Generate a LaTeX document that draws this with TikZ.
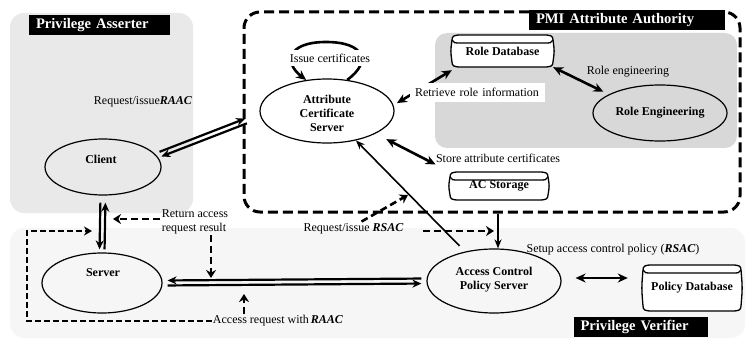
\documentclass[tikz,border=0pt]{standalone}
\usepackage{fontspec}
\setmainfont{Liberation Serif}
\usetikzlibrary{shapes.geometric,arrows.meta,calc}
\definecolor{asfill}{RGB}{233,233,233}
\definecolor{pvfill}{RGB}{246,246,246}
\definecolor{rolefill}{RGB}{216,216,216}
\newcommand{\dbdraw}[4]{%
 \draw[dbline,fill=white] (#1,{#2+5}) .. controls (#1,{#2+1}) and ({#1+2},#2) .. ({#1+9},#2) -- ({#3-9},#2) .. controls ({#3-2},#2) and (#3,{#2+1}) .. (#3,{#2+5})
   .. controls ({#3+1.5},{(#2+#4)/2}) .. (#3,{#4-5})
   .. controls (#3,{#4-1}) and ({#3-2},#4) .. ({#3-9},#4) -- ({#1+9},#4) .. controls ({#1+2},#4) and (#1,{#4-1}) .. (#1,{#4-5})
   .. controls ({#1-1.5},{(#2+#4)/2}) .. (#1,{#2+5}) -- cycle;
 \draw[dbline] (#1,{#2+5}) .. controls ({#1+2},{#2+8}) .. ({#1+9},{#2+8}) -- ({#3-9},{#2+8}) .. controls ({#3-2},{#2+8}) .. (#3,{#2+5});
}
\begin{document}
\begin{tikzpicture}[x=1pt,y=-1pt,
 font=\fontsize{12}{14}\selectfont,
 ell/.style={draw, ellipse, line width=1.2pt, inner sep=0pt},
 nlabel/.style={font=\fontsize{12}{14}\selectfont\bfseries, align=center, inner sep=0pt},
 dbnode/.style={font=\fontsize{12}{14}\selectfont\bfseries, inner sep=0pt},
 dbline/.style={line width=1.3pt},
 txt/.style={inner sep=1pt, font=\fontsize{12}{14}\selectfont},
 region/.style={rounded corners=14pt, inner sep=0pt},
 tag/.style={fill=black, text=white, font=\fontsize{14.6}{16}\selectfont\bfseries, inner xsep=7pt, inner ysep=0pt, minimum height=20pt, align=left},
 twoarrow/.style={line width=2.6pt, {Stealth[length=10pt,width=9pt]}-{Stealth[length=10pt,width=9pt]}},
 onearrow/.style={line width=1.6pt, -{Stealth[length=9pt,width=7pt]}},
 dline/.style={line width=2.2pt, -{Stealth[length=9pt,width=8pt]}},
 dasharrow/.style={line width=2.6pt, dash pattern=on 7pt off 4pt, -{Stealth[length=8pt,width=10pt]}},
 loopline/.style={line width=2pt, dash pattern=on 6pt off 3pt, -{Stealth[length=8pt,width=9pt]}},
]
\useasboundingbox (0,0) rectangle (747,342);
% regions
\node[region, fill=asfill, minimum width=183pt, minimum height=200pt] (asserter) at (101.5,113) {};
\node[region, fill=pvfill, minimum width=735pt, minimum height=110pt] (verifier) at (377.5,283) {};
\node[region, fill=rolefill, rounded corners=12pt, minimum width=302pt, minimum height=115pt] (roleregion) at (586,90.5) {};
\node[draw, rounded corners=16pt, line width=3pt, dash pattern=on 10pt off 5pt, inner sep=0pt, minimum width=496pt, minimum height=200pt] (pmi) at (492,112) {};

% ellipses
\node[ell, minimum width=134pt, minimum height=64pt] (acs) at (327,111) {};
\node[nlabel] (acstext) at (327,113) {Attribute\\Certificate\\Server};
\node[ell, minimum width=116pt, minimum height=56pt] (client) at (103,167) {};
\node[nlabel] (clienttext) at (101,159) {Client};
\node[ell, minimum width=120pt, minimum height=60pt] (server) at (102,283) {};
\node[nlabel] (servertext) at (103,273) {Server};
\node[ell, minimum width=134pt, minimum height=64pt] (acps) at (494,281) {};
\node[nlabel] (acpstext) at (494,280) {Access Control\\Policy Server};
\node[ell, minimum width=134pt, minimum height=56pt] (re) at (660,113) {};
\node[nlabel] (retext) at (660,113) {Role Engineering};

% databases
\dbdraw{452}{35}{553}{67}
\node[dbnode, minimum width=101pt, minimum height=32pt] (rdb) at (502.5,51) {\raisebox{-2pt}{Role Database}};
\dbdraw{450}{172}{548}{200}
\node[dbnode, minimum width=98pt, minimum height=28pt] (acst) at (499,186) {\raisebox{-1pt}{AC Storage}};
\dbdraw{643}{265}{741}{311}
\node[dbnode, minimum width=98pt, minimum height=46pt] (pdb) at (692,288) {\raisebox{-1pt}{Policy Database}};

% text labels used as connector ends
\node[txt] (rsac) at (353.5,229) {Request/issue \textbf{\textit{RSAC}}};
\node[txt, align=left] (ret) at (195,222) {Return access\\request result};
\node[txt] (acc) at (278,321) {Access request with\,\textbf{\textit{RAAC}}};
\node[txt] (raaclabel) at (143,102) {Request/issue\textbf{\textit{RAAC}}};
\node[txt] (storelabel) at (498,158) {Store attribute certificates};
\node[txt] (relabel) at (628,72) {Role engineering};
\node[txt] (setuplabel) at (613,250) {Setup access control policy (\textbf{\textit{RSAC}})};

% free ends
\coordinate (raacEnd) at (246,121);
\coordinate (rsacup) at (408,195);
\coordinate (rsacright) at (494,231);
\coordinate (retL) at (113,219);
\coordinate (retD) at (211,278);
\coordinate (accU) at (244,294);
\coordinate (loopT) at (92,231);

% issue certificates loop
\draw[line width=2.6pt, -{Stealth[length=10pt,width=9pt]}] (acs.57) .. controls (372,62) and (365,42) .. (326,42) .. controls (288,42) and (283,62) .. (acs.124);
% retrieve role information
\draw[twoarrow, shorten <=4pt] (acs.5) -- ([yshift=-3pt]rdb.south west);
% role engineering
\draw[twoarrow, shorten >=6pt] (rdb.south east) -- (re.160);
% store attribute certificates
\draw[twoarrow, shorten <=12pt, shorten >=16pt] (acs.-25) -- (acst.north west);
% ACPS -> ACS
\draw[onearrow, shorten <=8pt] (acps) -- (acs);
% boundary -> ACPS
\draw[onearrow] ($(acps.north |- pmi.south)+(4,0)$) -- ($(acps.north)+(4,0)$);
% RSAC dashed
\draw[dasharrow] ($(rsac.north)+(8,-1)$) -- (rsacup);
\draw[dasharrow] ($(rsac.east)+(18,2)$) -- (rsacright);
% return
\draw[dasharrow] ($(ret.west)+(-1,-3)$) -- (retL);
\draw[dasharrow] ($(ret.south)+(16,0)$) -- (retD);
% access request
\draw[dasharrow] ($(acc.north)+(-34,0)$) -- (accU);
\draw[loopline] (acc.west) -- ++(-185,0) |- (loopT);
% ACPS - Policy DB
\draw[twoarrow] ($(acps.east)+(14,-3)$) -- ($(pdb.west)+(-15,-10)$);

% double links
\draw[dline, shorten <=4pt] ($(client.12)!2.5pt!90:(raacEnd)$) -- ($(raacEnd)!2.5pt!-90:(client.12)$);
\draw[dline, shorten >=4pt] ($(raacEnd)!2.5pt!90:(client.12)$) -- ($(client.12)!2.5pt!-90:(raacEnd)$);
\draw[dline, shorten <=3pt, shorten >=7pt] ($(server.north)!2.5pt!-90:(client.south)$) -- ($(client.south)!2.5pt!90:(server.north)$);
\draw[dline, shorten <=7pt, shorten >=3pt] ($(client.south)!2.5pt!-90:(server.north)$) -- ($(server.north)!2.5pt!90:(client.south)$);
\draw[dline, shorten <=5pt, shorten >=5pt] ($(acps.west)!2.5pt!-90:(server.east)$) -- ($(server.east)!2.5pt!90:(acps.west)$);
\draw[dline, shorten <=5pt, shorten >=5pt] ($(server.east)!2.5pt!-90:(acps.west)$) -- ($(acps.west)!2.5pt!90:(server.east)$);

% white-backed labels
\node[txt, fill=white, inner xsep=1pt, inner ysep=4pt] (issuelabel) at (330,58) {Issue certificates};
\node[txt, fill=white, text width=125pt, inner xsep=5pt, inner ysep=5pt, align=left] (retrlabel) at (477.5,92.5) {Retrieve role information};

% tags
\node[tag, text width=127pt] (asstag) at (99.5,25.5) {Privilege Asserter};
\node[tag, text width=182pt] (pmitag) at (627,20.5) {PMI Attribute Authority};
\node[tag, text width=120pt] (pvtag) at (640.5,327) {Privilege Verifier};
\end{tikzpicture}
\end{document}
